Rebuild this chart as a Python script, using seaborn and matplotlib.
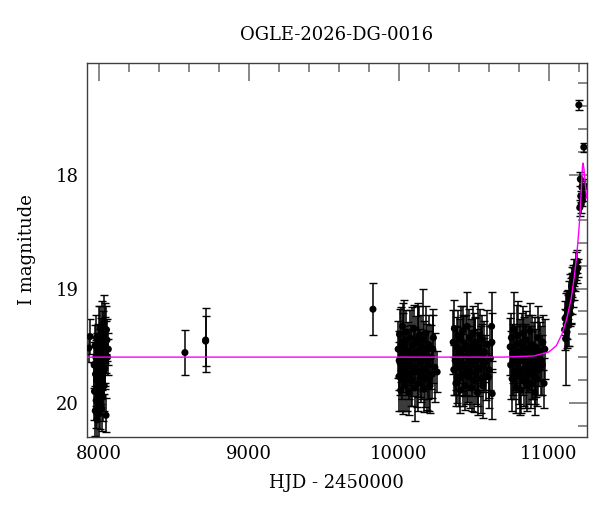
import numpy as np
import pandas as pd
import matplotlib
matplotlib.use("Agg")
import matplotlib.pyplot as plt
import seaborn as sns
from matplotlib.ticker import MultipleLocator, FixedLocator

# --- photometry (HJD-2450000, I mag, error) ---
# early season
t_a = [7932, 7940]
m_a = [19.52, 19.42]
e_a = [0.12, 0.15]

t_b = [7968, 7970, 7973, 7975, 7977, 7979, 7981, 7983, 7985, 7987, 7989, 7991,
       7993, 7995, 7997, 7999, 8001, 8003, 8005, 8007, 8009, 8011, 8013, 8015,
       8017, 8019, 8021, 8023, 8025, 8027, 8029, 8031, 8033, 8035, 8037, 8039,
       8041, 8043, 8045, 8047, 8050, 8053, 8057, 8062]
m_b = [19.67, 19.90, 19.50, 20.07, 19.75, 19.60, 19.98, 19.43, 19.80, 20.15, 19.65, 19.53,
       19.87, 19.71, 20.10, 19.57, 19.45, 19.83, 20.00, 19.63, 19.35, 19.75, 19.93, 19.50,
       19.67, 20.05, 19.40, 19.77, 19.60, 19.95, 19.47, 19.73, 19.30, 19.85, 19.55, 19.70,
       19.39, 19.63, 19.51, 20.11, 19.36, 19.45, 19.60, 19.53]
e_b = [0.20, 0.25, 0.18, 0.22, 0.28, 0.15, 0.24, 0.20, 0.30, 0.18, 0.26, 0.22,
       0.19, 0.27, 0.21, 0.25, 0.30, 0.17, 0.23, 0.28, 0.20, 0.26, 0.18, 0.24,
       0.22, 0.20, 0.29, 0.16, 0.25, 0.21, 0.27, 0.19, 0.24, 0.22, 0.30, 0.18,
       0.26, 0.20, 0.23, 0.15, 0.21, 0.18, 0.16, 0.14]

# isolated points
t_c = [8573, 8711, 8711, 9827]
m_c = [19.56, 19.45, 19.46, 19.18]
e_c = [0.20, 0.28, 0.22, 0.23]

# 2020 season
t_d = [9995, 10000, 10004, 10008, 10012, 10016, 10020, 10024, 10028, 10032, 10036, 10040,
       10045, 10050, 10055, 10060, 10065, 10070, 10075, 10080, 10085, 10090, 10095, 10100,
       10105, 10110, 10115, 10120, 10125, 10130, 10135, 10140, 10145, 10150, 10155, 10160,
       10165, 10170, 10175, 10180, 10185, 10190, 10195, 10200, 10208, 10215, 10222, 10230,
       10240, 10255, 10002, 10026, 10052, 10078, 10102, 10128, 10152, 10178, 10204, 10226]
m_d = [19.53, 19.77, 19.40, 19.65, 19.89, 19.49, 19.71, 19.33, 19.80, 19.57, 19.45, 19.85,
       19.63, 19.38, 19.75, 19.55, 19.91, 19.67, 19.43, 19.60, 19.81, 19.50, 19.69, 19.35,
       19.87, 19.61, 19.47, 19.73, 19.55, 19.83, 19.41, 19.65, 19.77, 19.51, 19.63, 19.45,
       19.88, 19.57, 19.71, 19.39, 19.79, 19.53, 19.67, 19.49, 19.85, 19.60, 19.75, 19.43,
       19.69, 19.73, 19.63, 19.51, 19.69, 19.75, 19.57, 19.45, 19.71, 19.61, 19.79, 19.53]
e_d = [0.25, 0.30, 0.22, 0.28, 0.18, 0.33, 0.26, 0.20, 0.30, 0.24, 0.35, 0.22,
       0.28, 0.19, 0.32, 0.26, 0.20, 0.30, 0.24, 0.28, 0.22, 0.34, 0.25, 0.21,
       0.29, 0.27, 0.23, 0.31, 0.40, 0.24, 0.26, 0.30, 0.22, 0.28, 0.25, 0.45,
       0.20, 0.29, 0.33, 0.24, 0.27, 0.22, 0.30, 0.26, 0.24, 0.28, 0.21, 0.25,
       0.30, 0.18, 0.26, 0.30, 0.24, 0.28, 0.22, 0.32, 0.26, 0.24, 0.28, 0.30]

t_e = [10362, 10366, 10370, 10375, 10380, 10385, 10390, 10395, 10400, 10405, 10410, 10415,
       10420, 10425, 10430, 10435, 10440, 10445, 10450, 10455, 10460, 10465, 10470, 10475,
       10480, 10485, 10490, 10495, 10500, 10505, 10510, 10515, 10520, 10525, 10530, 10535,
       10540, 10545, 10550, 10555, 10560, 10565, 10570, 10580, 10590, 10600, 10610, 10618,
       10620, 10622, 10378, 10402, 10428, 10452, 10478, 10502, 10528, 10552, 10576, 10598]
m_e = [19.47, 19.71, 19.35, 19.63, 19.83, 19.51, 19.67, 19.41, 19.79, 19.55, 19.89, 19.45,
       19.65, 19.37, 19.75, 19.59, 19.85, 19.49, 19.69, 19.33, 19.77, 19.61, 19.43, 19.73,
       19.53, 19.87, 19.65, 19.39, 19.81, 19.57, 19.47, 19.75, 19.63, 19.91, 19.51, 19.69,
       19.41, 19.79, 19.59, 19.45, 19.85, 19.67, 19.55, 19.77, 19.49, 19.71, 19.61, 19.33,
       19.47, 19.92, 19.61, 19.69, 19.53, 19.75, 19.63, 19.49, 19.71, 19.57, 19.65, 19.77]
e_e = [0.28, 0.22, 0.25, 0.30, 0.20, 0.26, 0.33, 0.22, 0.24, 0.28, 0.20, 0.30,
       0.25, 0.22, 0.28, 0.35, 0.21, 0.26, 0.24, 0.30, 0.22, 0.28, 0.25, 0.32,
       0.26, 0.20, 0.29, 0.24, 0.27, 0.31, 0.22, 0.26, 0.28, 0.20, 0.38, 0.25,
       0.23, 0.30, 0.26, 0.22, 0.28, 0.24, 0.27, 0.21, 0.30, 0.25, 0.28, 0.30,
       0.26, 0.22, 0.28, 0.24, 0.30, 0.26, 0.22, 0.28, 0.32, 0.26, 0.24, 0.28]

t_f = [10742, 10746, 10750, 10755, 10760, 10765, 10770, 10775, 10780, 10785, 10790, 10795,
       10800, 10805, 10810, 10815, 10820, 10825, 10830, 10835, 10840, 10845, 10850, 10855,
       10860, 10865, 10870, 10875, 10880, 10885, 10890, 10895, 10900, 10905, 10910, 10915,
       10920, 10925, 10930, 10940, 10950, 10960, 10968, 10973, 10758, 10782, 10808, 10832,
       10858, 10882, 10908, 10934, 10956]
m_f = [19.51, 19.67, 19.43, 19.79, 19.57, 19.35, 19.73, 19.61, 19.87, 19.49, 19.65, 19.41,
       19.77, 19.55, 19.71, 19.89, 19.47, 19.63, 19.39, 19.81, 19.59, 19.69, 19.45, 19.85,
       19.53, 19.75, 19.61, 19.37, 19.83, 19.67, 19.49, 19.73, 19.57, 19.91, 19.51, 19.65,
       19.79, 19.43, 19.71, 19.55, 19.63, 19.47, 19.83, 19.53, 19.65, 19.57, 19.75, 19.51,
       19.69, 19.61, 19.77, 19.55, 19.67]
e_f = [0.25, 0.30, 0.22, 0.28, 0.26, 0.32, 0.24, 0.28, 0.22, 0.35, 0.26, 0.30,
       0.24, 0.28, 0.40, 0.20, 0.26, 0.30, 0.24, 0.22, 0.28, 0.36, 0.25, 0.22,
       0.30, 0.26, 0.28, 0.24, 0.22, 0.30, 0.26, 0.24, 0.28, 0.20, 0.26, 0.30,
       0.24, 0.28, 0.22, 0.26, 0.30, 0.24, 0.22, 0.26, 0.28, 0.24, 0.30, 0.26,
       0.22, 0.28, 0.24, 0.30, 0.26]

# rising part
t_g = [11105, 11108, 11112, 11115, 11118, 11121, 11124, 11127, 11130, 11133, 11136, 11139,
       11142, 11145, 11148, 11151, 11154, 11157, 11160, 11163, 11166, 11170, 11175, 11180,
       11185, 11190, 11194]
m_g = [19.36, 19.26, 19.44, 19.31, 19.24, 19.38, 19.18, 19.28, 19.14, 19.32, 19.08, 19.21,
       19.04, 19.16, 19.11, 18.98, 19.06, 18.94, 19.01, 18.90, 18.96, 18.86, 18.92, 18.80,
       18.86, 18.76, 18.82]
e_g = [0.18, 0.15, 0.40, 0.12, 0.20, 0.14, 0.16, 0.22, 0.13, 0.18, 0.15, 0.12,
       0.17, 0.14, 0.20, 0.12, 0.16, 0.13, 0.15, 0.11, 0.14, 0.12, 0.10, 0.12,
       0.09, 0.10, 0.08]

# peak
t_h = [11200, 11233, 11206, 11210, 11213, 11216, 11220, 11224, 11228, 11238]
m_h = [17.39, 17.76, 18.29, 18.04, 18.19, 18.26, 18.11, 18.22, 18.18, 18.10]
e_h = [0.04, 0.04, 0.07, 0.06, 0.05, 0.08, 0.05, 0.06, 0.05, 0.06]

# model curve
model_t = [7920, 10700, 10900, 11000, 11050, 11090, 11120, 11150, 11170, 11185,
           11200, 11210, 11218, 11224, 11228, 11234, 11242, 11253]
model_m = [19.60, 19.60, 19.59, 19.555, 19.50, 19.39, 19.26, 19.08, 18.89, 18.72,
           18.49, 18.30, 18.09, 17.93, 17.90, 17.95, 18.07, 18.21]

df = pd.DataFrame({
    "hjd": t_a + t_b + t_c + t_d + t_e + t_f + t_g + t_h,
    "mag": m_a + m_b + m_c + m_d + m_e + m_f + m_g + m_h,
    "err": e_a + e_b + e_c + e_d + e_e + e_f + e_g + e_h,
})
model = pd.DataFrame({"hjd": model_t, "mag": model_m})

sns.set_style("white")
plt.rcParams["font.family"] = ["DejaVu Serif"]
plt.rcParams["text.color"] = "black"
plt.rcParams["axes.labelcolor"] = "black"
plt.rcParams["xtick.color"] = "black"
plt.rcParams["ytick.color"] = "black"

fig = plt.figure(figsize=(6, 5.12), dpi=100)
ax = fig.add_axes([0.145, 0.1465, 0.833, 0.731])

ax.errorbar(df.hjd, df.mag, yerr=df.err, fmt="none", ecolor="black",
            elinewidth=1.1, capsize=3, capthick=1.0, zorder=2)
sns.scatterplot(data=df, x="hjd", y="mag", ax=ax, color="black", s=26,
                edgecolor="none", zorder=3)
sns.lineplot(data=model, x="hjd", y="mag", ax=ax, color="#ff00ff", lw=1.0, zorder=4)

ax.set_xlim(7920, 11253)
ax.set_ylim(20.30, 17.02)
ax.xaxis.set_major_locator(MultipleLocator(1000))
ax.xaxis.set_minor_locator(MultipleLocator(200))
ax.yaxis.set_major_locator(FixedLocator([18, 19, 20]))
ax.yaxis.set_minor_locator(MultipleLocator(0.2))
ax.tick_params(which="major", direction="in", top=True, right=True, length=13,
               width=1.2, color="0.45", labelcolor="black", labelsize=13, pad=6)
ax.tick_params(which="minor", direction="in", top=True, right=True, length=6.5,
               width=1.2, color="0.45")
for s in ax.spines.values():
    s.set_color("0.25")
    s.set_linewidth(1.0)

ax.set_xlabel("HJD - 2450000", fontsize=13, labelpad=8)
ax.set_ylabel("I magnitude", fontsize=13, labelpad=14)
ax.set_title("OGLE-2026-DG-0016", fontsize=13, pad=16)

fig.savefig("out.png", dpi=100)
